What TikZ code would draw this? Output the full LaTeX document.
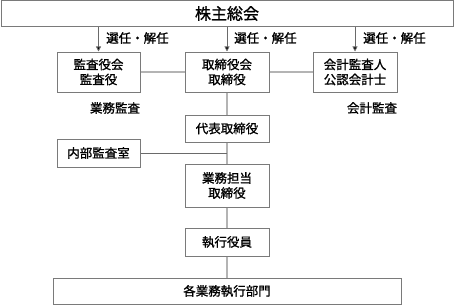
\documentclass[tikz,border=0pt]{standalone}
\usepackage{fontspec}
\setmainfont{Noto Sans CJK JP}[FakeBold=1.2]
\usetikzlibrary{arrows.meta}
\begin{document}
\begin{tikzpicture}[x=1pt,y=-1pt,
  box/.style={draw=boxgray,line width=1pt,fill=white,inner sep=0pt,align=center,font=\fontsize{12.5}{15}\selectfont},
  conn/.style={draw=linegray,line width=1.6pt},
  thinconn/.style={draw=darkline,line width=0.8pt},
  arr/.style={draw=darkline,line width=0.8pt,-{Triangle[length=5pt,width=5pt,fill=black]}},
  lbl/.style={font=\fontsize{12.5}{15}\selectfont,inner sep=0pt,anchor=west}]
\definecolor{boxgray}{HTML}{7A7A7A}
\definecolor{linegray}{HTML}{B4B4B4}
\definecolor{darkline}{HTML}{6A6A6A}
\useasboundingbox (0,0) rectangle (454,305);
\node[box,minimum width=452pt,minimum height=26pt,font=\fontsize{16}{18}\selectfont] (gm) at (227,13.5) {株主総会};
\node[box,minimum width=83pt,minimum height=40pt] (kansa) at (98.5,72) {監査役会\\監査役};
\node[box,minimum width=84pt,minimum height=40pt] (board) at (227,72) {取締役会\\取締役};
\node[box,minimum width=84pt,minimum height=40pt] (acct) at (355,72) {会計監査人\\公認会計士};
\node[box,minimum width=84pt,minimum height=27pt] (rep) at (227,128.5) {代表取締役};
\node[box,minimum width=83pt,minimum height=28pt] (naibu) at (98.5,153) {内部監査室};
\node[box,minimum width=84pt,minimum height=43pt] (gyomu) at (227,185.5) {業務担当\\取締役};
\node[box,minimum width=84pt,minimum height=28pt] (exec) at (227,242) {執行役員};
\node[box,minimum width=348pt,minimum height=26pt] (dept) at (227,291) {各業務執行部門};
\coordinate (mid) at (227,153);
\draw[conn] (kansa.east) -- (board.west);
\draw[conn] (board.east) -- (acct.west);
\draw[conn] (board.south) -- (rep.north);
\draw[conn] (rep.south) -- (gyomu.north);
\draw[conn] (gyomu.south) -- (exec.north);
\draw[conn] (exec.south) -- (dept.north);
\draw[thinconn] (naibu.east) -- (mid);
\draw[arr] (gm.south -| kansa.north) -- (kansa.north);
\draw[arr] (gm.south -| board.north) -- (board.north);
\draw[arr] (gm.south -| acct.north) -- (acct.north);
\node[lbl] (l1) at (106,38) {選任・解任};
\node[lbl] (l2) at (234,38) {選任・解任};
\node[lbl] (l3) at (363,38) {選任・解任};
\node[font=\fontsize{12.5}{15}\selectfont,inner sep=0pt] (t1) at (115,108) {業務監査};
\node[font=\fontsize{12.5}{15}\selectfont,inner sep=0pt] (t2) at (372,108) {会計監査};
\end{tikzpicture}
\end{document}
